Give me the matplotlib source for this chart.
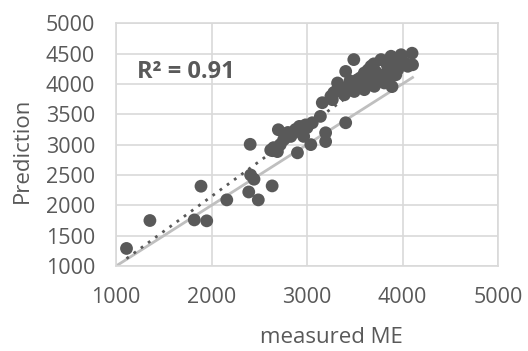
import numpy as np
import matplotlib
matplotlib.use("Agg")
import matplotlib.pyplot as plt

# measured ME vs prediction
measured = [1110, 1355, 1820, 1950, 1890, 2160, 2390, 2490, 2635, 2405,
            2410, 2445, 2620, 2690, 2700, 2755, 2830, 2860, 2900, 2930,
            2965, 2985, 3040, 3055, 3140, 3160, 3195, 3195, 3265, 3300,
            3405, 3250, 3280, 3320, 3390, 3405, 3490, 3495, 3530, 3565,
            3600, 3600, 3670, 3705, 3740, 3775, 3810, 3845, 3880, 3880,
            3890, 3950, 3950, 3985, 4055, 4100, 4105, 2640,
            3350, 3420, 3450, 3520, 3560, 3620, 3650, 3680, 3720, 3760,
            3800, 3830, 3860, 3920, 3930, 3700, 3640, 3900, 4020,
            2650, 2780, 2800, 2880, 2950, 2920, 3000, 2720]
predicted = [1290, 1750, 1760, 1745, 2315, 2090, 2220, 2090, 2320, 3005,
             2500, 2430, 2910, 2885, 3245, 3080, 3135, 3195, 2865, 3245,
             3135, 3325, 3000, 3360, 3465, 3690, 3195, 3050, 3740, 3875,
             3360, 3795, 3855, 4015, 3820, 4205, 4400, 3875, 4070, 4015,
             4180, 3905, 4290, 3960, 4125, 4400, 4015, 4290, 4125, 4455,
             3955, 4235, 4400, 4480, 4290, 4505, 4315, 2900,
             3900, 3950, 4050, 3950, 4100, 4050, 4150, 4000, 4200, 4050,
             4150, 4350, 4200, 4300, 4150, 4330, 4230, 4380, 4350,
             2950, 3120, 3200, 3250, 3200, 3300, 3280, 3000]
r2_label = "R² = 0.91"

grey = "#595959"
plt.rcParams['font.family'] = ['Open Sans', 'DejaVu Sans']

fig = plt.figure(figsize=(5.28, 3.51), dpi=100)
ax = fig.add_axes([0.2197, 0.242, 0.7235, 0.692])

x = np.array(measured)
y = np.array(predicted)

# 1:1 line
ax.plot([1000, x.max()], [1000, x.max()], color="#bfbfbf", lw=2, zorder=2)

# linear trendline
k, b = np.polyfit(x, y, 1)
xt = np.array([x.min(), x.max()])
ax.plot(xt, k * xt + b, color=grey, lw=2, ls=(0, (1, 2.2)), zorder=2)

ax.scatter(x, y, s=85, color=grey, edgecolors="none", zorder=3)

ax.text(1220, 4102, r2_label, fontsize=17, fontweight="bold", color=grey)

ax.set_xlim(1000, 5000)
ax.set_ylim(1000, 5000)
ax.set_xticks(range(1000, 5001, 1000))
ax.set_yticks(range(1000, 5001, 500))
ax.grid(True, color="#d9d9d9", lw=1.2)
ax.set_axisbelow(True)
for s in ax.spines.values():
    s.set_color("#d9d9d9")
    s.set_linewidth(1.2)
ax.tick_params(length=0, labelsize=15.5, labelcolor=grey, pad=15)

ax.set_xlabel("measured ME", fontsize=16, color=grey)
ax.set_ylabel("Prediction", fontsize=16, color=grey)
ax.xaxis.set_label_coords(0.563, -0.296)
ax.yaxis.set_label_coords(-0.246, 0.477)
ax.xaxis.label.set_va("center")
ax.yaxis.label.set_va("center")

fig.savefig("out.png", dpi=100)
